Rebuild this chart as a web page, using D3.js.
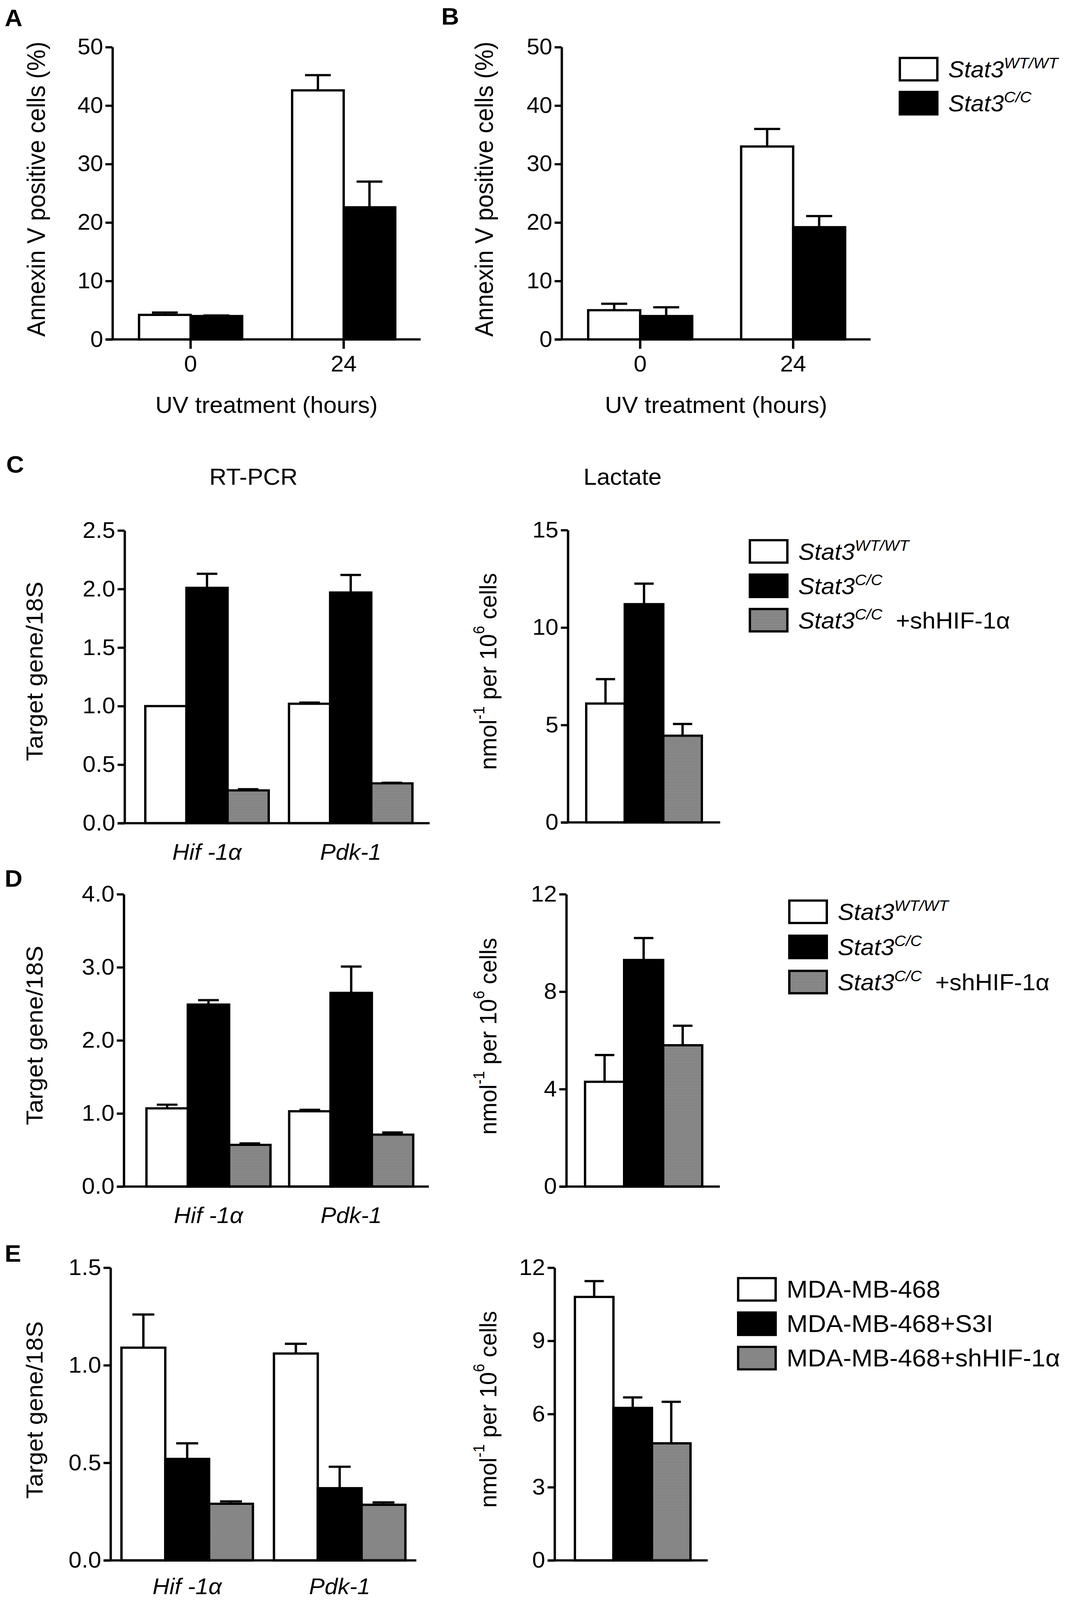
<!DOCTYPE html>
<html>
<head>
<meta charset="utf-8">
<script src="https://cdn.jsdelivr.net/npm/d3@7"></script>
<style>
  html, body { margin: 0; padding: 0; background: #fff; overflow: hidden; }
  svg { display: block; }
  text { font-family: "Liberation Sans", Arial, sans-serif; fill: #000; }
</style>
</head>
<body>
<script>
var width = 2732,
    height = 4280;

// ---- data ----
var uvHours = ["0", "24"];
var genes = ["Hif -1\u03b1", "Pdk-1"];
var lactateGroup = ["lactate"];

var aWT = [4.2, 42.6],   aWTErr = [0.4, 2.6];
var aCC = [4.0, 22.6],   aCCErr = [0.1, 4.4];
var bWT = [5.0, 33.0],   bWTErr = [1.1, 3.0];
var bCC = [4.0, 19.2],   bCCErr = [1.5, 1.9];

var cWT = [1.0, 1.02],   cWTErr = [0.0, 0.01];
var cCC = [2.01, 1.97],  cCCErr = [0.12, 0.15];
var cSh = [0.28, 0.34],  cShErr = [0.01, 0.005];
var cLac = [6.1, 11.2, 4.45], cLacErr = [1.25, 1.05, 0.6];

var dWT = [1.07, 1.03],  dWTErr = [0.05, 0.02];
var dCC = [2.49, 2.65],  dCCErr = [0.06, 0.36];
var dSh = [0.57, 0.71],  dShErr = [0.02, 0.03];
var dLac = [4.3, 9.3, 5.8], dLacErr = [1.1, 0.9, 0.8];

var eCtrl = [1.09, 1.06], eCtrlErr = [0.17, 0.05];
var eS3I = [0.52, 0.37],  eS3IErr = [0.08, 0.11];
var eSh = [0.29, 0.285],  eShErr = [0.012, 0.012];
var eLac = [10.8, 6.25, 4.8], eLacErr = [0.65, 0.43, 1.7];

var ticksAB = [0, 10, 20, 30, 40, 50];
var ticksCgene = [0, 0.5, 1.0, 1.5, 2.0, 2.5];
var ticksClac = [0, 5, 10, 15];
var ticksDgene = [0, 1, 2, 3, 4];
var ticksDlac = [0, 4, 8, 12];
var ticksEgene = [0, 0.5, 1.0, 1.5];
var ticksElac = [0, 3, 6, 9, 12];

var stat3Legend = [["Stat3", "WT/WT", ""], ["Stat3", "C/C", ""], ["Stat3", "C/C", "  +shHIF-1\u03b1"]];
var mdaLegend = ["MDA-MB-468", "MDA-MB-468+S3I", "MDA-MB-468+shHIF-1\u03b1"];

// ---- drawing ----
// the viewport is shorter than the figure, so squeeze the figure into it
var vw = window.innerWidth || width,
    vh = window.innerHeight || height;

var svg = d3.select("body").append("svg")
    .attr("width", vw)
    .attr("height", vh)
    .attr("viewBox", "0 0 " + width + " " + height)
    .attr("preserveAspectRatio", "none")
    .style("background", "#fff");

var pat = svg.append("defs").append("pattern")
    .attr("id", "hatch")
    .attr("patternUnits", "userSpaceOnUse")
    .attr("width", 4)
    .attr("height", 4);
pat.append("rect").attr("width", 4).attr("height", 4).attr("fill", "#a0a0a0");
pat.append("rect").attr("width", 4).attr("height", 2).attr("fill", "#6c6c6c");

var fills = ["#fff", "#000", "url(#hatch)"];
var SW = 6;

function panel(o) {
  var g = svg.append("g");
  var y = d3.scaleLinear().domain([0, o.max]).range([o.yBottom, o.yTop]);
  var x0 = d3.scaleBand().domain(o.groups).range(o.barRange).paddingInner(o.pad || 0);
  var x1 = d3.scaleBand().domain(d3.range(o.series.length)).range([0, x0.bandwidth()]);

  var rows = [];
  o.groups.forEach(function(grp, gi) {
    o.series.forEach(function(s, si) {
      rows.push({g: grp, s: si, v: s[0][gi], e: s[1][gi]});
    });
  });

  g.selectAll("rect.bar").data(rows).enter().append("rect")
      .attr("class", "bar")
      .attr("x", function(d) { return x0(d.g) + x1(d.s); })
      .attr("y", function(d) { return y(d.v); })
      .attr("width", x1.bandwidth())
      .attr("height", function(d) { return y(0) - y(d.v); })
      .attr("fill", function(d) { return fills[d.s]; })
      .attr("stroke", "#000")
      .attr("stroke-width", SW);

  var bw = x1.bandwidth();
  var eb = g.selectAll("g.err").data(rows.filter(function(d) { return d.e > 0; }))
      .enter().append("g").attr("class", "err")
      .attr("stroke", "#000").attr("stroke-width", SW);
  eb.append("line")
      .attr("x1", function(d) { return x0(d.g) + x1(d.s) + bw / 2; })
      .attr("x2", function(d) { return x0(d.g) + x1(d.s) + bw / 2; })
      .attr("y1", function(d) { return y(d.v); })
      .attr("y2", function(d) { return y(d.v + d.e); });
  eb.append("line")
      .attr("x1", function(d) { return x0(d.g) + x1(d.s) + bw / 4; })
      .attr("x2", function(d) { return x0(d.g) + x1(d.s) + bw * 3 / 4; })
      .attr("y1", function(d) { return y(d.v + d.e); })
      .attr("y2", function(d) { return y(d.v + d.e); });

  // y axis
  var ya = g.append("g")
      .attr("transform", "translate(" + o.axisX + ",0)")
      .call(d3.axisLeft(y).tickValues(o.ticks).tickFormat(d3.format(o.fmt || "d"))
        .tickSize(18).tickPadding(6).tickSizeOuter(0));
  ya.select(".domain").attr("stroke-width", SW);
  ya.selectAll(".tick line").attr("stroke-width", SW);
  ya.selectAll(".tick text").style("font-size", (o.tickSize || 60) + "px").attr("font-family", null);

  // x axis line
  g.append("line")
      .attr("x1", o.axisX - 18).attr("x2", o.xEnd)
      .attr("y1", o.yBottom).attr("y2", o.yBottom)
      .attr("stroke", "#000").attr("stroke-width", SW);

  if (o.xTicks) {
    var xa = g.append("g")
        .attr("transform", "translate(0," + o.yBottom + ")")
        .call(d3.axisBottom(x0).tickSize(25).tickPadding(18));
    xa.select(".domain").remove();
    xa.selectAll(".tick line").attr("stroke-width", SW);
    xa.selectAll(".tick text").style("font-size", "60px").attr("font-family", null);
  }
  if (o.catLabels) {
    g.selectAll("text.cat").data(o.groups).enter().append("text")
        .attr("class", "cat")
        .attr("x", function(d) { return x0(d) + x0.bandwidth() / 2; })
        .attr("y", o.yBottom + (o.catDy || 98))
        .attr("text-anchor", "middle")
        .style("font-size", "60px")
        .style("font-style", "italic")
        .text(function(d) { return d; });
  }
  if (o.xTitle) {
    g.append("text")
        .attr("x", (o.axisX + o.xEnd) / 2)
        .attr("y", o.yBottom + 197)
        .attr("text-anchor", "middle")
        .style("font-size", "61px")
        .text(o.xTitle);
  }

  // y label
  var yl = g.append("text")
      .attr("transform", "translate(" + o.ylabelX + "," + (o.ylabelY || (o.yTop + o.yBottom) / 2) + ") rotate(-90)")
      .attr("text-anchor", "middle")
      .attr("dominant-baseline", "central")
      .style("font-size", (o.ylabelSize || 58) + "px");
  if (o.ylabel === "lactate") {
    yl.append("tspan").text("nmol");
    yl.append("tspan").attr("dy", -24).style("font-size", "40px").text("-1");
    yl.append("tspan").attr("dy", 24).text(" per 10");
    yl.append("tspan").attr("dy", -24).style("font-size", "40px").text("6");
    yl.append("tspan").attr("dy", 24).text(" cells");
  } else {
    yl.text(o.ylabel);
    if (o.ylabelLen) yl.attr("textLength", o.ylabelLen).attr("lengthAdjust", "spacingAndGlyphs");
  }
}

function legend(x, y0, step, items, stat3, size) {
  var g = svg.append("g");
  items.forEach(function(it, i) {
    var yy = y0 + i * step;
    g.append("rect")
        .attr("x", x).attr("y", yy)
        .attr("width", 96).attr("height", 60)
        .attr("fill", fills[i])
        .attr("stroke", "#000").attr("stroke-width", SW);
    var t = g.append("text")
        .attr("x", x + 124).attr("y", yy + 52)
        .style("font-size", size + "px");
    if (stat3) {
      t.append("tspan").style("font-style", "italic").text(it[0]);
      t.append("tspan").attr("dy", -24).style("font-style", "italic").style("font-size", "41px").text(it[1]);
      t.append("tspan").attr("dy", 24).attr("xml:space", "preserve").style("white-space", "pre").text(it[2]);
    } else {
      t.text(it);
    }
  });
}

function letter(ch, x, y) {
  svg.append("text").attr("x", x).attr("y", y)
      .style("font-size", "63px").style("font-weight", "bold").text(ch);
}

// A
letter("A", 12, 70);
panel({axisX: 288, yTop: 126, yBottom: 908, xEnd: 1077, max: 50, ticks: ticksAB, tickSize: 59,
  groups: uvHours, barRange: [356, 1012], pad: 0.3265, xTicks: true,
  series: [[aWT, aWTErr], [aCC, aCCErr]], ylabelSize: 64, ylabelY: 506,
  ylabel: "Annexin V positive cells (%)", ylabelX: 93, xTitle: "UV treatment (hours)"});

// B
letter("B", 1130, 66);
panel({axisX: 1438, yTop: 126, yBottom: 908, xEnd: 2229, max: 50, ticks: ticksAB, tickSize: 59,
  groups: uvHours, barRange: [1506, 2164], pad: 0.32, xTicks: true,
  series: [[bWT, bWTErr], [bCC, bCCErr]], ylabelSize: 64, ylabelY: 506,
  ylabel: "Annexin V positive cells (%)", ylabelX: 1240, xTitle: "UV treatment (hours)"});
legend(2304, 155, 91, stat3Legend.slice(0, 2), true, 61);

// C
letter("C", 16, 1264);
svg.append("text").attr("x", 649).attr("y", 1297).attr("text-anchor", "middle")
    .style("font-size", "61px").text("RT-PCR");
svg.append("text").attr("x", 1594).attr("y", 1297).attr("text-anchor", "middle")
    .style("font-size", "61px").text("Lactate");
panel({axisX: 319, yTop: 1419, yBottom: 2202, xEnd: 1100, max: 2.5, ticks: ticksCgene, fmt: ".1f",
  groups: genes, barRange: [372, 1056], pad: 0.141, catLabels: true,
  series: [[cWT, cWTErr], [cCC, cCCErr], [cSh, cShErr]],
  ylabel: "Target gene/18S", ylabelX: 88, ylabelSize: 60, ylabelLen: 480, ylabelY: 1796});
panel({axisX: 1454, yTop: 1418, yBottom: 2200, xEnd: 1844, max: 15, ticks: ticksClac,
  groups: lactateGroup, barRange: [1501, 1797],
  series: [[[cLac[0]], [cLacErr[0]]], [[cLac[1]], [cLacErr[1]]], [[cLac[2]], [cLacErr[2]]]],
  ylabel: "lactate", ylabelX: 1250, ylabelSize: 62, ylabelY: 1796});
legend(1920, 1445, 92, stat3Legend, true, 62);

// D
letter("D", 12, 2372);
panel({axisX: 317, yTop: 2392, yBottom: 3174, xEnd: 1098, max: 4, ticks: ticksDgene, fmt: ".1f",
  groups: genes, barRange: [375, 1058], pad: 0.131, catLabels: true,
  series: [[dWT, dWTErr], [dCC, dCCErr], [dSh, dShErr]],
  ylabel: "Target gene/18S", ylabelX: 88, ylabelSize: 60, ylabelLen: 480, ylabelY: 2770});
panel({axisX: 1450, yTop: 2392, yBottom: 3174, xEnd: 1843, max: 12, ticks: ticksDlac,
  groups: lactateGroup, barRange: [1498, 1798],
  series: [[[dLac[0]], [dLacErr[0]]], [[dLac[1]], [dLacErr[1]]], [[dLac[2]], [dLacErr[2]]]],
  ylabel: "lactate", ylabelX: 1250, ylabelSize: 62, ylabelY: 2772});
legend(2021, 2409, 94, stat3Legend, true, 62);

// E
letter("E", 12, 3375);
panel({axisX: 283, yTop: 3391, yBottom: 4174, xEnd: 1066, max: 1.5, ticks: ticksEgene, fmt: ".1f",
  groups: genes, barRange: [311, 1038], pad: 0.138, catLabels: true, catDy: 90,
  series: [[eCtrl, eCtrlErr], [eS3I, eS3IErr], [eSh, eShErr]],
  ylabel: "Target gene/18S", ylabelX: 88, ylabelSize: 60, ylabelLen: 475, ylabelY: 3772});
panel({axisX: 1420, yTop: 3391, yBottom: 4174, xEnd: 1812, max: 12, ticks: ticksElac,
  groups: lactateGroup, barRange: [1472, 1768],
  series: [[[eLac[0]], [eLacErr[0]]], [[eLac[1]], [eLacErr[1]]], [[eLac[2]], [eLacErr[2]]]],
  ylabel: "lactate", ylabelX: 1250, ylabelSize: 62, ylabelY: 3770});
legend(1890, 3419, 92, mdaLegend, false, 65);
</script>
</body>
</html>
